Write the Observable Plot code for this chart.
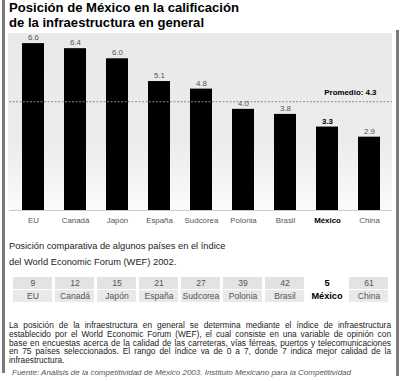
<!DOCTYPE html>
<html><head><meta charset="utf-8">
<script src="https://cdn.jsdelivr.net/npm/d3@7"></script>
<script src="https://cdn.jsdelivr.net/npm/@observablehq/plot@0.6"></script>
<style>
body{margin:0;background:#fff;}
#wrap{position:relative;width:400px;height:381px;overflow:hidden;font-family:"Liberation Sans",Arial,Helvetica,sans-serif;background:#fff;color:#222;}
.abs{position:absolute;}
#bl{left:2px;top:0;width:3px;height:373px;background:#7a7a7a;}
#br{left:396px;top:30px;width:3px;height:346px;background:#7a7a7a;}
#title{left:9px;top:1px;font-size:13.1px;font-weight:bold;line-height:14.7px;color:#000;white-space:nowrap;}
#panel{left:8px;top:33px;width:384px;height:178px;background:linear-gradient(to bottom,#e9e9e9 0%,#ececec 62%,#fbfbfb 100%);}
#chart{left:0;top:32px;}
#sub{left:9px;top:237.5px;font-size:9.3px;line-height:16.3px;color:#222;white-space:nowrap;}
#table{left:0;top:276px;}
#cap{left:9px;top:321.3px;width:382px;font-size:8.3px;line-height:8.7px;color:#222;}
#cap div{text-align:justify;text-align-last:justify;white-space:nowrap;}
#cap div.last{text-align-last:left;}
#src{left:12px;top:368px;font-size:8px;line-height:10px;font-style:italic;color:#555;white-space:nowrap;}
</style></head><body>
<div id="wrap">
  <div id="bl" class="abs"></div>
  <div id="br" class="abs"></div>
  <div id="title" class="abs">Posición de México en la calificación<br>de la infraestructura en general</div>
  <div id="panel" class="abs"></div>
  <div id="chart" class="abs"></div>
  <div id="sub" class="abs">Posición comparativa de algunos países en el índice<br>del World Economic Forum (WEF) 2002.</div>
  <div id="table" class="abs"></div>
  <div id="cap" class="abs">
    <div>La posición de la infraestructura en general se determina mediante el índice de infraestructura</div>
    <div>establecido por el World Economic Forum (WEF), el cual consiste en una variable de opinión con</div>
    <div>base en encuestas acerca de la calidad de las carreteras, vías férreas, puertos y telecomunicaciones</div>
    <div>en 75 países seleccionados. El rango del índice va de 0 a 7, donde 7 indica mejor calidad de la</div>
    <div class="last">infraestructura.</div>
  </div>
  <div id="src" class="abs">Fuente: Análisis de la competitividad de México 2003. Instituto Mexicano para la Competitividad</div>
</div>
<script>
const countries = ["EU","Canadá","Japón","España","Sudcorea","Polonia","Brasil","México","China"];
const scores = [6.6,6.4,6.0,5.1,4.8,4.0,3.8,3.3,2.9];
const ranks = ["9","12","15","21","27","39","42","5","61"];
const average = 4.3;
const highlight = "México";

const data = countries.map((c,i)=>({country:c, value:scores[i]}));
const isMx = d => d.country === highlight;
const notMx = d => d.country !== highlight;
const font = '"Liberation Sans",Arial,Helvetica,sans-serif';

const chart = Plot.plot({
  width: 400, height: 198,
  marginTop: 1, marginBottom: 20, marginLeft: 9, marginRight: 8,
  style: {background: "transparent", fontFamily: font, overflow: "visible"},
  x: {type: "band", domain: countries, paddingInner: 0.48, paddingOuter: 0.24, axis: null},
  y: {domain: [0, 7], axis: null},
  marks: [
    Plot.ruleY([0], {stroke: "#c8c8c8"}),
    Plot.barY(data, {x: "country", y: "value", fill: "#000"}),
    Plot.ruleY([average], {stroke: "#8a8a8a", strokeDasharray: "2,1.5"}),
    Plot.text(data, {filter: notMx, x: "country", y: "value", text: d => d.value.toFixed(1), dy: -6, fontSize: 7.9, fill: "#555"}),
    Plot.text(data, {filter: isMx, x: "country", y: "value", text: d => d.value.toFixed(1), dy: -6, fontSize: 7.9, fill: "#000", fontWeight: "bold"}),
    Plot.text(data, {filter: notMx, x: "country", y: () => 0, text: "country", dy: 10, fontSize: 7.9, fill: "#555"}),
    Plot.text(data, {filter: isMx, x: "country", y: () => 0, text: "country", dy: 10, fontSize: 7.9, fill: "#000", fontWeight: "bold"}),
    Plot.text([average], {y: d => d, frameAnchor: "right", textAnchor: "end", dx: -16, dy: -9, text: d => `Promedio: ${d.toFixed(1)}`, fontSize: 7.9, fontWeight: "bold", fill: "#000"})
  ]
});
document.getElementById("chart").appendChild(chart);

const rows = countries.flatMap((c,i)=>[
  {country: c, row: "rank", label: ranks[i]},
  {country: c, row: "name", label: c}
]);
const table = Plot.plot({
  width: 400, height: 26,
  marginTop: 0, marginBottom: 0, marginLeft: 9, marginRight: 8,
  style: {background: "transparent", fontFamily: font, overflow: "visible"},
  x: {type: "band", domain: countries, paddingInner: 0.06, paddingOuter: 0.03, axis: null},
  y: {type: "band", domain: ["rank","name"], paddingInner: 0.1, paddingOuter: 0.05, axis: null},
  marks: [
    Plot.cell(rows, {x: "country", y: "row", fill: d => d.country === highlight ? "#ffffff" : (d.row === "rank" ? "#e3e3e3" : "#e9e9e9")}),
    Plot.text(rows, {filter: notMx, x: "country", y: "row", text: "label", fontSize: 8.6, fill: "#555"}),
    Plot.text(rows, {filter: isMx, x: "country", y: "row", text: "label", fontSize: 9.2, fontWeight: "bold", fill: "#000", style: "letter-spacing:0.6px"})
  ]
});
document.getElementById("table").appendChild(table);
</script>
</body></html>
